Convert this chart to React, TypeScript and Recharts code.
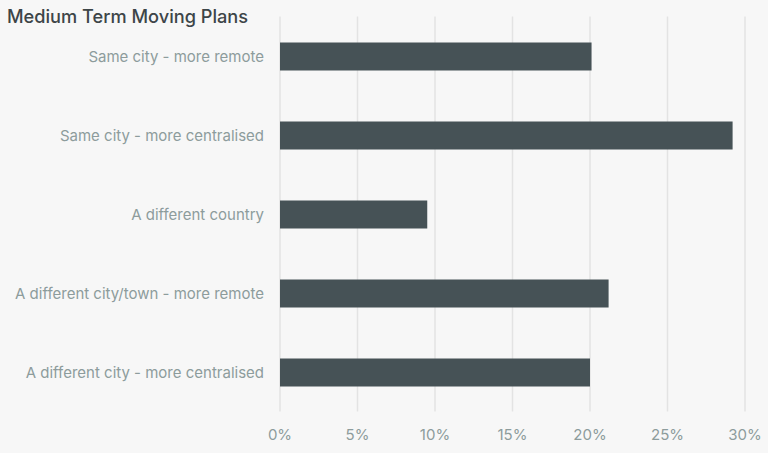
import React from "react";
import { BarChart, Bar, XAxis, YAxis, CartesianGrid } from "recharts";

const categories = [
  "Same city - more remote",
  "Same city - more centralised",
  "A different country",
  "A different city/town - more remote",
  "A different city - more centralised",
];
const shares = [20.1, 29.2, 9.5, 21.2, 20.0];
const xTicks = [0, 5, 10, 15, 20, 25, 30];

const data = categories.map((name, i) => ({ name, value: shares[i] }));

const BAR_COLOR = "#465256";
const TEXT_COLOR = "#8d9c9c";

const App: React.FC = () => {
  return (
    <div
      style={{
        position: "absolute",
        left: 0,
        top: 0,
        width: 768,
        height: 453,
        background: "#f7f7f7",
        fontFamily: "Inter, 'Noto Sans', sans-serif",
      }}
    >
      <div
        style={{
          position: "absolute",
          left: 7,
          top: 5,
          fontSize: 18.2,
          fontWeight: 500,
          color: "#3d4548",
          whiteSpace: "nowrap",
        }}
      >
        Medium Term Moving Plans
      </div>
      <BarChart
        width={768}
        height={453}
        data={data}
        layout="vertical"
        margin={{ top: 16.5, right: 23, bottom: 11.5, left: 0 }}
        barCategoryGap="32%"
      >
        <CartesianGrid horizontal={false} stroke="#e3e3e3" strokeWidth={1.5} />
        <XAxis
          type="number"
          domain={[0, 30]}
          ticks={xTicks}
          tickFormatter={(v) => `${v}%`}
          axisLine={false}
          tickLine={false}
          tickSize={0}
          tickMargin={18}
          height={30}
          tick={{ fill: TEXT_COLOR, fontSize: 15 }}
        />
        <YAxis
          type="category"
          dataKey="name"
          width={280}
          axisLine={false}
          tickLine={false}
          tickSize={0}
          tickMargin={16}
          tick={{ fill: TEXT_COLOR, fontSize: 15, dy: 1 }}
        />
        <Bar dataKey="value" fill={BAR_COLOR} barSize={28} isAnimationActive={false} />
      </BarChart>
    </div>
  );
};

export default App;
